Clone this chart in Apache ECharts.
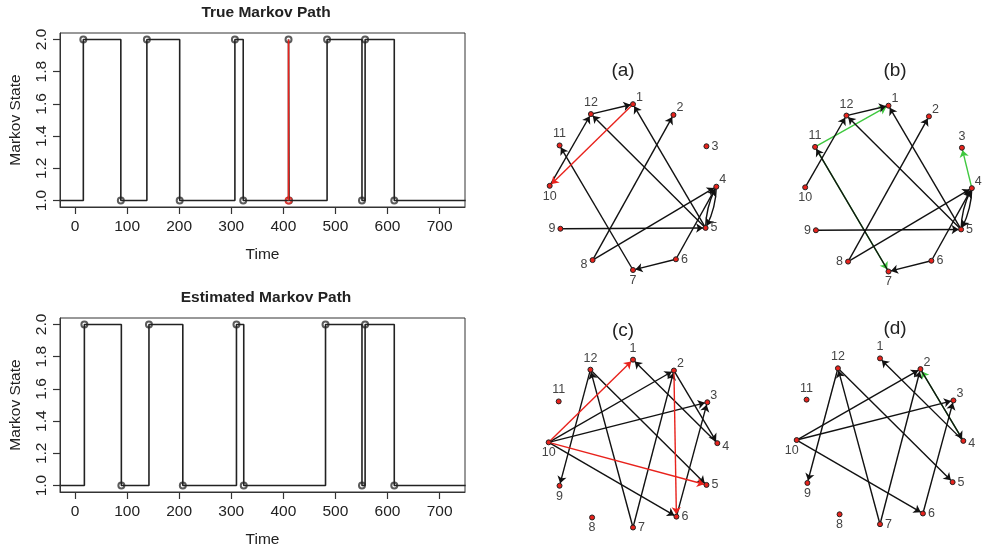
<!DOCTYPE html>
<html><head><meta charset="utf-8">
<script src="https://cdn.jsdelivr.net/npm/echarts@6/dist/echarts.min.js"></script>
<style>html,body{margin:0;padding:0;background:#fff}
#wrap{position:relative;width:985px;height:550px;overflow:hidden}
#left{position:absolute;left:0;top:0;width:500px;height:550px}
#right{position:absolute;left:500px;top:0;width:485px;height:550px}</style>
</head><body><div id="wrap"><div id="left"></div><div id="right"></div></div>
<script>
// ---------- Markov path data ----------
const trueTimes  = [-30, 16, 88, 138, 201, 307, 323, 410, 411, 484, 551, 557, 613, 750];
const trueStates = [1, 2, 1, 2, 1, 2, 1, 2, 1, 2, 1, 2, 1, 1];
const missedJumpIndex = 7; // jump in the true path that the estimate misses (drawn red)
const estTimes   = [-30, 18, 89, 142, 207, 310, 324, 481, 551, 557, 613, 750];
const estStates  = [1, 2, 1, 2, 1, 2, 1, 2, 1, 2, 1, 1];
const timeTicks  = [0, 100, 200, 300, 400, 500, 600, 700];
const stateTicks = [1.0, 1.2, 1.4, 1.6, 1.8, 2.0];

// ---------- Network data ----------
const nodeNames = ['1','2','3','4','5','6','7','8','9','10','11','12'];
const nodeX = [0.00, 0.49, 0.89, 1.01, 0.88, 0.52, 0.00, -0.49, -0.88, -1.01, -0.89, -0.51];
const nodeY = [1.01, 0.88, 0.50, 0.01, -0.49, -0.87, -1.00, -0.88, -0.50, 0.02, 0.51, 0.89];

const edgesA      = [[12,1],[10,12],[7,11],[8,2],[5,1],[5,12],[9,5],[8,4],[6,4],[4,5],[5,4],[6,7]];
const edgesARed   = [[1,10]];
const edgesB      = [[12,1],[10,12],[7,11],[8,2],[5,1],[5,12],[9,5],[8,4],[6,4],[4,5],[5,4],[6,7]];
const edgesBGreen = [[11,1],[4,3],[11,7]];
const edgesC      = [[10,2],[10,3],[10,6],[12,9],[7,12],[12,5],[7,2],[6,3],[4,1],[2,4]];
const edgesCRed   = [[10,1],[10,5],[2,6]];
const edgesD      = [[10,2],[10,3],[10,6],[12,9],[7,12],[12,5],[7,2],[6,3],[4,1],[2,4]];
const edgesDGreen = [[4,2]];

const panelTitles = ['(a)','(b)','(c)','(d)'];

// ---------- styles ----------
const FONT = 'Liberation Sans, Arial, Helvetica, sans-serif';
const INK = '#222';
const RED = '#e8221c';
const GREEN = '#3fc83f';
const RX = 500; // left edge of the right-hand (network) canvas

const labelPlacement = {
  t:  {position:'top', distance:2},
  b:  {position:'bottom', distance:1},
  r:  {position:'right', distance:2},
  l:  {position:'left', distance:2},
  tr: {position:'right', distance:0, offset:[0,-7]},
  bl: {position:'bottom', distance:1, offset:[-5,0]},
  lb: {position:'left', distance:2, offset:[0,4]},
  rb: {position:'right', distance:2, offset:[0,3]}
};
const labelsA = ['tr','tr','r','tr','r','r','b','lb','l','b','t','t'];
const labelsB = ['tr','tr','t','tr','r','r','b','l','l','b','t','t'];
const labelsC = ['t','tr','tr','rb','r','r','r','b','b','b','t','t'];
const labelsD = ['t','tr','tr','rb','r','r','r','b','b','bl','t','t'];

function pts(times, states) { return times.map((t,i)=>[t, states[i]]); }
function jumpPts(times, states) {
  return times.map((t,i)=>[t, states[i]]).filter(p => p[0] >= 0 && p[0] <= 720);
}

// ---------- left: Markov paths ----------
const leftChart = echarts.init(document.getElementById('left'));

function timeAxis(gi) {
  return {
    type:'value', gridIndex:gi, min:-28.8, max:748.8, z:10,
    name:'Time', nameLocation:'middle', nameGap:40,
    nameTextStyle:{fontFamily:FONT, fontSize:15.5, color:INK},
    axisLine:{show:true, onZero:false, lineStyle:{color:'#333', width:1}}, splitLine:{show:false},
    axisTick:{show:true, customValues:timeTicks, length:7, lineStyle:{color:'#333', width:1.2}},
    axisLabel:{customValues:timeTicks, margin:12, fontFamily:FONT, fontSize:15.5, color:INK}
  };
}
function stateAxis(gi) {
  return {
    type:'value', gridIndex:gi, min:0.96, max:2.04, z:10,
    name:'Markov State', nameLocation:'middle', nameGap:36, nameRotate:90,
    nameTextStyle:{fontFamily:FONT, fontSize:15.5, color:INK},
    axisLine:{show:true, onZero:false, lineStyle:{color:'#333', width:1}}, splitLine:{show:false},
    axisTick:{show:true, customValues:stateTicks, length:7, lineStyle:{color:'#333', width:1.2}},
    axisLabel:{customValues:stateTicks, rotate:90, margin:10, fontFamily:FONT, fontSize:15.5, color:INK,
      formatter:v => v.toFixed(1)}
  };
}
function pathSeries(gi, times, states) {
  return [
    {type:'line', xAxisIndex:gi, yAxisIndex:gi, data:pts(times, states), step:'end',
     showSymbol:false, symbol:'none', lineStyle:{color:INK, width:1.6}},
    {type:'scatter', xAxisIndex:gi, yAxisIndex:gi, data:jumpPts(times, states),
     symbol:'emptyCircle', symbolSize:6, itemStyle:{color:'#333', borderWidth:1.3}}
  ];
}
const missedLine = [[trueTimes[missedJumpIndex], trueStates[missedJumpIndex-1]],
                    [trueTimes[missedJumpIndex], trueStates[missedJumpIndex]]];

leftChart.setOption({
  animation:false,
  title: [
    {text:'True Markov Path', left:261, top:0, textAlign:'center',
     textStyle:{fontFamily:FONT, fontSize:15.5, fontWeight:'bold', color:INK}},
    {text:'Estimated Markov Path', left:261, top:285, textAlign:'center',
     textStyle:{fontFamily:FONT, fontSize:15.5, fontWeight:'bold', color:INK}}
  ],
  grid: [
    {left:57, top:33, width:408, height:174, show:true, borderColor:'#333', borderWidth:1},
    {left:57, top:318, width:408, height:174, show:true, borderColor:'#333', borderWidth:1}
  ],
  xAxis: [timeAxis(0), timeAxis(1)],
  yAxis: [stateAxis(0), stateAxis(1)],
  series: [
    ...pathSeries(0, trueTimes, trueStates),
    {type:'line', xAxisIndex:0, yAxisIndex:0, data:missedLine, showSymbol:false, symbol:'none',
     lineStyle:{color:RED, width:1.6}},
    {type:'scatter', xAxisIndex:0, yAxisIndex:0, data:[missedLine[0]], symbol:'emptyCircle', symbolSize:6,
     itemStyle:{color:RED, borderWidth:1.3}},
    ...pathSeries(1, estTimes, estStates)
  ]
});

// ---------- right: networks ----------
const rightChart = echarts.init(document.getElementById('right'));
const netGrids = [
  {cx:633, cy:187.5, r:82.5},
  {cx:888.5, cy:189, r:82.5},
  {cx:633, cy:444, r:83.5},
  {cx:880, cy:441.7, r:82.5}
].map(g => ({left:g.cx - RX - 1.1*g.r, top:g.cy - 1.1*g.r, width:2.2*g.r, height:2.2*g.r, show:false}));
function netAxis(gi) { return {type:'value', gridIndex:gi, min:-1.1, max:1.1, show:false}; }

function graphSeries(gi, edgeSets, placements) {
  const links = [];
  edgeSets.forEach(set => {
    set.edges.forEach(e => {
      const rev = set.edges.some(f => f[0] === e[1] && f[1] === e[0]);
      links.push({source:String(e[0]), target:String(e[1]),
        lineStyle:{color:set.color, curveness: rev ? 0.12 : 0}});
    });
  });
  return {
    type:'graph', coordinateSystem:'cartesian2d', xAxisIndex:gi, yAxisIndex:gi,
    data: nodeNames.map((n,i)=>({name:n, value:[nodeX[i], nodeY[i]],
      label:Object.assign({}, labelPlacement[placements[i]])})),
    links: links,
    symbol:'circle', symbolSize:5,
    itemStyle:{color:RED, borderColor:'#222', borderWidth:1},
    edgeSymbol:['none','arrow'], edgeSymbolSize:[0,7],
    lineStyle:{width:1.4, color:'#111', opacity:1},
    label:{show:true, color:'#444', fontSize:12.5, fontFamily:FONT, formatter:'{b}'},
    emphasis:{disabled:true}, silent:true
  };
}
const titleX = [618, 890, 618, 890];
const titleY = [56, 56, 316, 314];

rightChart.setOption({
  animation:false,
  title: panelTitles.map((t,i)=>({text:t, left:titleX[i]-RX, top:titleY[i], textAlign:'center',
    textStyle:{fontFamily:FONT, fontSize:19, fontWeight:'normal', color:INK}})),
  grid: netGrids,
  xAxis: [0,1,2,3].map(netAxis),
  yAxis: [0,1,2,3].map(netAxis),
  series: [
    graphSeries(0, [{edges:edgesA, color:'#111'}, {edges:edgesARed, color:RED}], labelsA),
    graphSeries(1, [{edges:edgesBGreen, color:GREEN}, {edges:edgesB, color:'#111'}], labelsB),
    graphSeries(2, [{edges:edgesC, color:'#111'}, {edges:edgesCRed, color:RED}], labelsC),
    graphSeries(3, [{edges:edgesDGreen, color:GREEN}, {edges:edgesD, color:'#111'}], labelsD)
  ]
});
</script>
</body></html>
